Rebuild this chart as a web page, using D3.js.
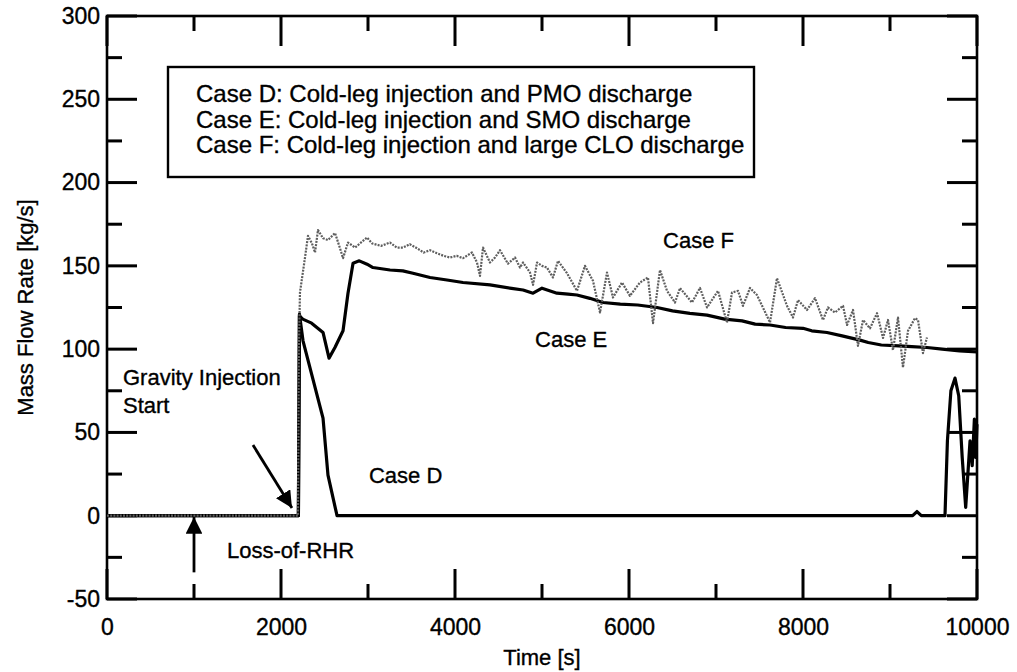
<!DOCTYPE html>
<html>
<head>
<meta charset="utf-8">
<script src="https://cdn.jsdelivr.net/npm/d3@7"></script>
<style>
  body { margin: 0; background: #fff; }
  svg { display: block; font-family: "Liberation Sans", Arial, sans-serif; }
  svg text { fill: #000; stroke: #000; stroke-width: 0.35px; }
</style>
</head>
<body>
<svg id="chart" width="1017" height="672"></svg>
<script>
// Mass flow rate histories, [time s, rate kg/s]
const caseD = [[0,0],[2200,0],[2212,121],[2253,105],[2483,58.6],[2540,24.4],[2644,0],[9260,0],[9310,2.5],[9360,0],
  [9632,0],[9660,45],[9700,75],[9747,82.6],[9790,72],[9830,35],[9870,5],[9895,25],[9920,45],[9945,30],[9970,58],[9985,35],[10000,55]];

const caseE = [[0,0],[2200,0],[2212,120],[2250,118],[2352,115.6],[2483,110],[2552,94.6],[2620,101],[2713,111],[2770,133.6],
  [2828,151.6],[2900,153],[2989,151],[3057,149],[3253,147.5],[3400,147],[3517,145.6],[3713,143],[3908,141.5],[4092,140],
  [4402,138.6],[4650,136.5],[4782,135.5],[4897,133.6],[5000,136.6],[5172,133.6],[5300,133],[5402,132.5],[5550,130.5],
  [5701,128],[5900,127],[6100,126.5],[6322,125],[6500,123],[6700,121.5],[6897,120.4],[7100,118],[7300,117],[7450,115],
  [7621,114.5],[7800,113],[8000,112.5],[8100,111],[8276,110],[8450,108],[8655,105.4],[8750,104],[8900,102.5],[9100,102],
  [9250,101.5],[9425,101],[9600,100],[9800,99],[10000,98.3]];

const caseF = [[0,0],[2195,0],[2205,100],[2218,134],[2276,155],[2310,168],[2356,163.5],[2391,158],[2425,171.5],[2483,166.6],
  [2540,165.5],[2621,169.7],[2678,160.6],[2713,154.6],[2770,164],[2851,161],[2989,167],[3046,163.5],[3150,162],[3253,164],
  [3330,161],[3402,161],[3480,163],[3563,160.6],[3640,158],[3713,159.4],[3793,157.6],[3870,156],[3943,155],[4020,156],
  [4092,154.6],[4195,158],[4253,152],[4287,144],[4322,161],[4402,152],[4460,155],[4517,159.4],[4609,151.3],[4690,155],
  [4747,149],[4782,152],[4862,146],[4897,138.6],[4943,152],[5000,150],[5057,149],[5126,143],[5184,153],[5287,145.6],
  [5402,135],[5494,150],[5586,141],[5667,122],[5747,146],[5816,131],[5920,140],[6011,132],[6126,140],[6218,143],
  [6276,115.6],[6356,147.5],[6437,135],[6529,128],[6586,136.7],[6724,128],[6816,136.7],[6897,125],[7023,135],[7126,116],
  [7184,134],[7253,135],[7310,126],[7391,136.7],[7471,132.5],[7621,116],[7701,142.6],[7816,126],[7885,119],[7943,129.5],
  [8046,123.5],[8138,130.6],[8230,117.5],[8287,125],[8368,122],[8460,126],[8506,114.5],[8575,123.5],[8632,102],[8690,117.5],
  [8770,112.5],[8851,121.6],[8920,106.7],[8977,117.5],[9034,99.4],[9092,119],[9149,89],[9207,111],[9287,118.6],[9322,117.5],
  [9379,97.6],[9425,107]];

const xMajor = [0, 2000, 4000, 6000, 8000, 10000];
const xMinor = [1000, 3000, 5000, 7000, 9000];
const yMajor = [-50, 0, 50, 100, 150, 200, 250, 300];
const yMinor = [-25, 25, 75, 125, 175, 225, 275];

const legendLines = [
  "Case D: Cold-leg injection and PMO discharge",
  "Case E: Cold-leg injection and SMO discharge",
  "Case F: Cold-leg injection and large CLO discharge"
];

const svg = d3.select("#chart");
const L = 107, R = 977, T = 16, B = 599;
const x = d3.scaleLinear().domain([0, 10000]).range([L, R]);
const y = d3.scaleLinear().domain([-50, 300]).range([B, T]);

// tick labels through d3 axes
function labelAxis(g) {
  g.select(".domain").remove();
  g.selectAll("line").remove();
  g.selectAll("text").attr("font-size", 23).attr("font-family", "Liberation Sans, Arial, sans-serif");
}
svg.append("g").attr("transform", `translate(0,${B})`)
  .call(d3.axisBottom(x).tickValues(xMajor).tickSize(0).tickPadding(20).tickFormat(d => String(d)))
  .call(labelAxis);
svg.append("g").attr("transform", `translate(${L},0)`)
  .call(d3.axisLeft(y).tickValues(yMajor).tickSize(0).tickPadding(7).tickFormat(d => String(d)))
  .call(labelAxis);

// frame
svg.append("rect").attr("x", L).attr("y", T).attr("width", R - L).attr("height", B - T)
  .attr("fill", "none").attr("stroke", "#000").attr("stroke-width", 2.6);

// inward tick marks on all four sides, drawn as thin filled bars
const tw = 3;
const tickBars = [];
[[xMajor, 30], [xMinor, 15]].forEach(([vals, len]) => vals.forEach(v => {
  tickBars.push({ x: x(v) - tw / 2, y: B - len, w: tw, h: len });
  tickBars.push({ x: x(v) - tw / 2, y: T, w: tw, h: len });
}));
[[yMajor, 30], [yMinor, 15]].forEach(([vals, len]) => vals.forEach(v => {
  tickBars.push({ x: L, y: y(v) - tw / 2, w: len, h: tw });
  tickBars.push({ x: R - len, y: y(v) - tw / 2, w: len, h: tw });
}));
svg.append("g").attr("class", "ticks").selectAll("rect").data(tickBars).join("rect")
  .attr("x", d => d.x).attr("y", d => d.y).attr("width", d => d.w).attr("height", d => d.h)
  .attr("fill", "#000");

// axis titles
svg.append("text").attr("x", (L + R) / 2).attr("y", 665).attr("text-anchor", "middle")
  .attr("font-size", 22).text("Time [s]");
svg.append("text").attr("transform", `translate(33,${(T + B) / 2}) rotate(-90)`)
  .attr("text-anchor", "middle").attr("font-size", 22).text("Mass Flow Rate [kg/s]");

// curves
const line = d3.line().x(d => x(d[0])).y(d => y(d[1]));
svg.append("path").datum(caseD).attr("d", line).attr("fill", "none")
  .attr("stroke", "#000").attr("stroke-width", 3.2).attr("stroke-linejoin", "round");
svg.append("path").datum(caseE).attr("d", line).attr("fill", "none")
  .attr("stroke", "#000").attr("stroke-width", 3.2).attr("stroke-linejoin", "round");
svg.append("path").datum(caseF).attr("d", line).attr("fill", "none")
  .attr("stroke", "#5e5e5e").attr("stroke-width", 2.2).attr("stroke-dasharray", "2,1.2")
  .attr("stroke-linejoin", "round");

// legend box
const lg = svg.append("g");
lg.append("rect").attr("x", 168).attr("y", 67).attr("width", 586).attr("height", 110)
  .attr("fill", "#fff").attr("stroke", "#000").attr("stroke-width", 2.4);
lg.selectAll("text").data(legendLines).join("text")
  .attr("x", 196).attr("y", (d, i) => 102 + i * 25.5)
  .attr("font-size", 24).text(d => d);

// annotations
const ann = [
  { t: 6391, v: 161, s: "Case F" },
  { t: 4920, v: 101, s: "Case E" },
  { t: 3011, v: 19.6, s: "Case D" },
  { t: 184, v: 78.5, s: "Gravity Injection" },
  { t: 184, v: 61.7, s: "Start" },
  { t: 1379, v: -25.4, s: "Loss-of-RHR" }
];
svg.selectAll("text.ann").data(ann).join("text").attr("class", "ann")
  .attr("x", d => x(d.t)).attr("y", d => y(d.v)).attr("font-size", 22).text(d => d.s);

// arrows
svg.append("defs").append("marker").attr("id", "head")
  .attr("viewBox", "0 0 10 10").attr("refX", 10).attr("refY", 5)
  .attr("markerWidth", 6).attr("markerHeight", 6).attr("markerUnits", "strokeWidth")
  .attr("orient", "auto")
  .append("path").attr("d", "M0,0 L10,5 L0,10 Z").attr("fill", "#000");
const arrows = [
  { t0: 1678, v0: 42.4, t1: 2126, v1: 4.6 },
  { t0: 1000, v0: -34, t1: 1000, v1: -0.8 }
];
svg.selectAll("line.arrow").data(arrows).join("line").attr("class", "arrow")
  .attr("x1", d => x(d.t0)).attr("y1", d => y(d.v0))
  .attr("x2", d => x(d.t1)).attr("y2", d => y(d.v1))
  .attr("stroke", "#000").attr("stroke-width", 2.8).attr("marker-end", "url(#head)");
</script>
</body>
</html>
